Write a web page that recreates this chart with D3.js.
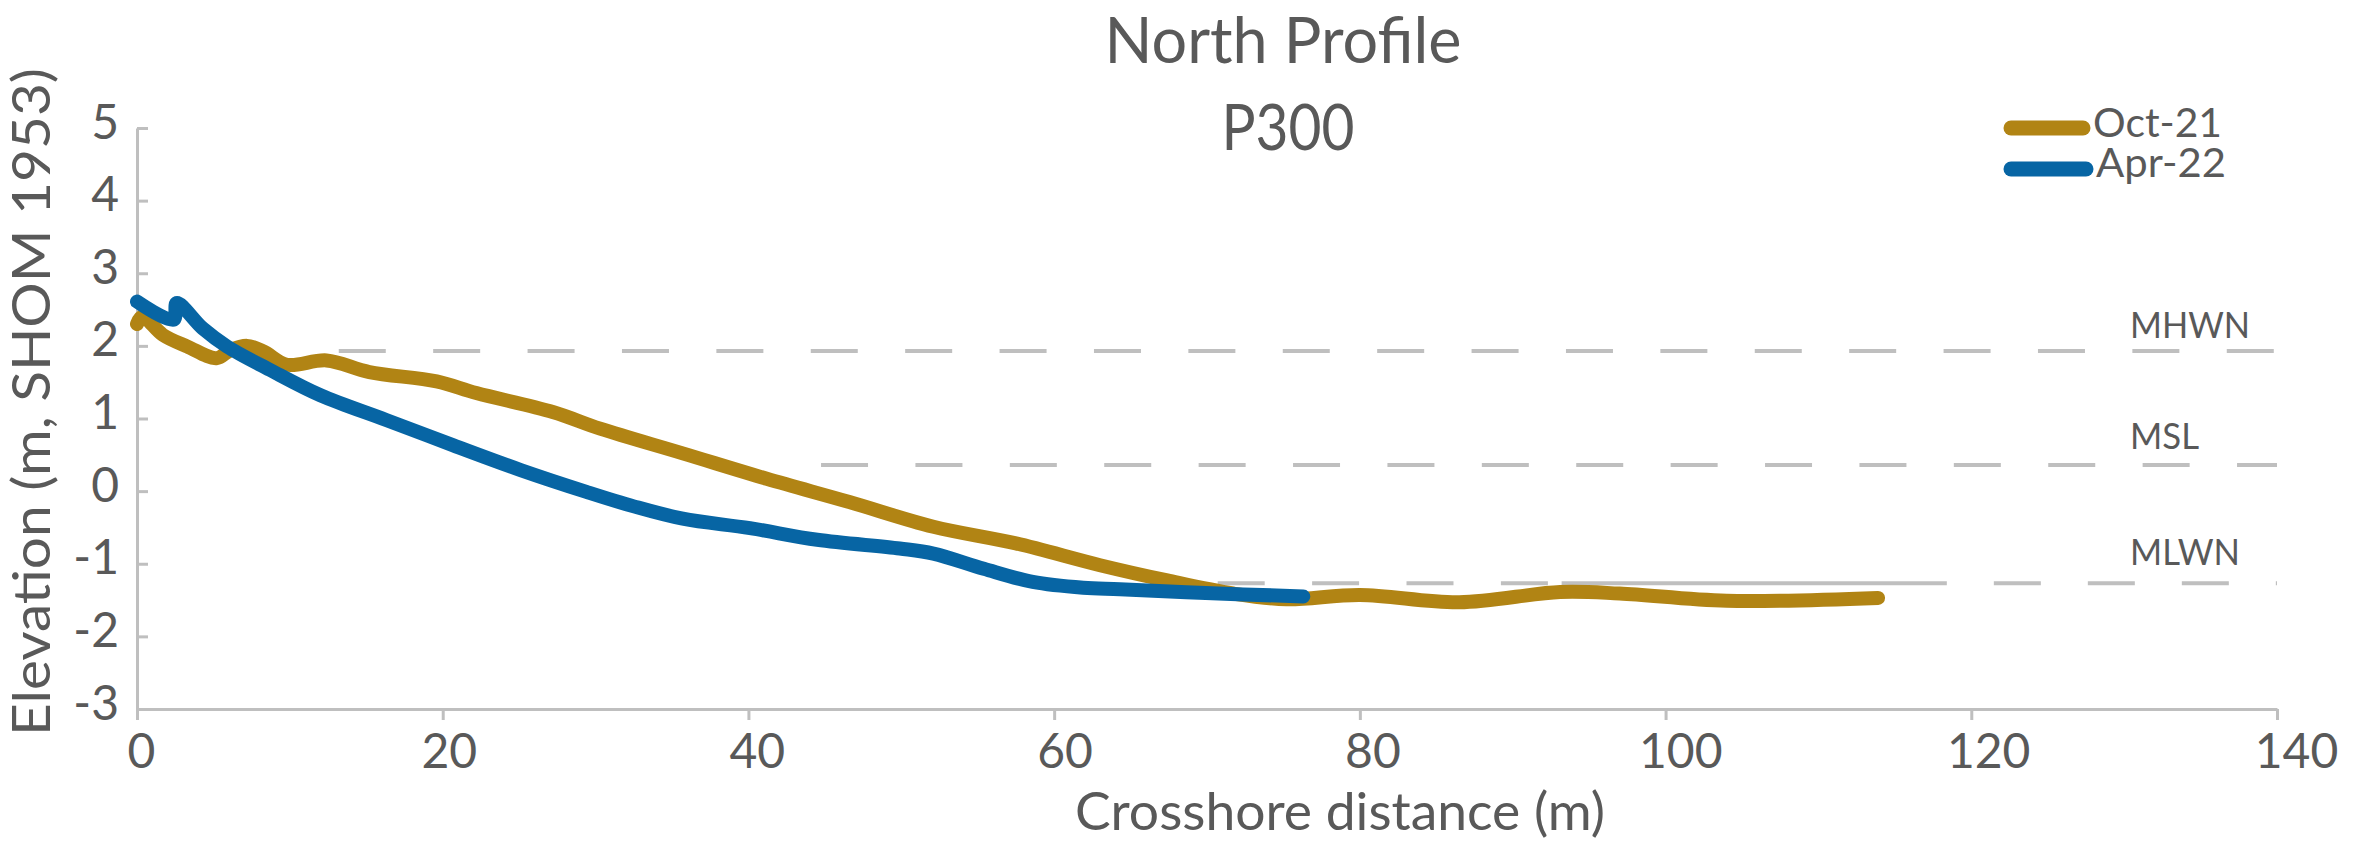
<!DOCTYPE html>
<html>
<head>
<meta charset="utf-8">
<script src="https://cdn.jsdelivr.net/npm/d3@7/dist/d3.min.js"></script>
<style>
  html, body { margin: 0; padding: 0; background: #fff; }
  svg { display: block; }
  text { font-family: Lato, "Open Sans", sans-serif; fill: #595959; }
</style>
</head>
<body>
<svg id="chart" width="2363" height="864"></svg>
<script>
// profile surveys
var octX = [0, 0.35, 1.7, 3.3, 5.2, 6.1, 7.2, 8.3, 9.8, 12.4, 15.2, 19.6, 22.2, 27.2, 30.3, 35.7, 41.2, 46.6, 52.1, 57.5, 63.0, 67.4, 71.7, 75.2, 80.0, 86.5, 93.1, 97.0, 104.0, 113.9];
var octZ = [2.30, 2.40, 2.15, 1.99, 1.83, 1.94, 2.00, 1.92, 1.74, 1.80, 1.64, 1.51, 1.35, 1.09, 0.86, 0.52, 0.17, -0.15, -0.49, -0.72, -1.02, -1.23, -1.41, -1.49, -1.43, -1.53, -1.39, -1.41, -1.51, -1.47];
var aprX = [0, 2.4, 2.6, 4.3, 5.9, 8.7, 12.0, 16.3, 20.7, 25.1, 29.4, 32.5, 35.7, 40.1, 44.5, 49.9, 52.1, 55.4, 58.6, 61.9, 64.3, 69.5, 76.3];
var aprZ = [2.61, 2.36, 2.59, 2.24, 1.99, 1.67, 1.32, 0.98, 0.63, 0.29, -0.01, -0.21, -0.38, -0.51, -0.67, -0.79, -0.86, -1.07, -1.25, -1.33, -1.35, -1.40, -1.45];

var seriesNames = ['Oct-21', 'Apr-22'];
var seriesColors = ['#B18414', '#0765A4'];

// tide levels
var refNames = ['MHWN', 'MSL', 'MLWN'];
var refLevels = [1.93, 0.36, -1.27];
var refStarts = [13.2, 44.75, 70.7];
var mlwnSolid = [93.2, 118.4];

var xTicks = [0, 20, 40, 60, 80, 100, 120, 140];
var yTicks = [-3, -2, -1, 0, 1, 2, 3, 4, 5];

var svg = d3.select('#chart');
var grey = '#BFBFBF';
var plain = function(d){ return String(d); };

var x = d3.scaleLinear().domain([0, 140]).range([137, 2277]);
var xLab = d3.scaleLinear().domain([0, 140]).range([141, 2296]);
var y = d3.scaleLinear().domain([-3, 5]).range([709, 128]);

// titles
svg.append('text').attr('x', 1283).attr('y', 63).attr('text-anchor', 'middle')
  .style('font-size', '64px').attr('textLength', 357).attr('lengthAdjust', 'spacingAndGlyphs')
  .text('North Profile');
svg.append('text').attr('x', 1288).attr('y', 150).attr('text-anchor', 'middle')
  .style('font-size', '64px').attr('textLength', 133).attr('lengthAdjust', 'spacingAndGlyphs')
  .text('P300');

// axes
var xAxis = svg.append('g').attr('transform', 'translate(0,' + y(-3) + ')')
  .call(d3.axisBottom(x).tickValues(xTicks).tickSize(11).tickSizeOuter(0).tickFormat(plain));
xAxis.selectAll('text').attr('dy', null).attr('y', 59)
  .attr('x', function(d){ return xLab(d) - x(d); })
  .style('font-size', '48px');

var yAxis = svg.append('g').attr('transform', 'translate(' + x(0) + ',0)')
  .call(d3.axisLeft(y).tickValues(yTicks).tickSize(-11).tickSizeOuter(0).tickPadding(18).tickFormat(plain));
yAxis.selectAll('text').attr('dy', null).attr('y', 10).style('font-size', '48px');

svg.selectAll('.domain, .tick line').attr('stroke', grey).attr('stroke-width', 3);
svg.selectAll('.tick text').attr('fill', '#595959').style('font-family', 'Lato, "Open Sans", sans-serif');

// axis titles
svg.append('text').attr('x', 1340).attr('y', 830).attr('text-anchor', 'middle')
  .style('font-size', '52px').attr('textLength', 530).attr('lengthAdjust', 'spacingAndGlyphs')
  .text('Crosshore distance (m)');
svg.append('text').attr('transform', 'translate(50,402) rotate(-90)').attr('text-anchor', 'middle')
  .style('font-size', '52px').attr('textLength', 668).attr('lengthAdjust', 'spacingAndGlyphs')
  .text('Elevation (m, SHOM 1953)');

// tide reference lines
var refG = svg.append('g');
refNames.forEach(function(name, i){
  var stop = name === 'MLWN' ? mlwnSolid[0] : 140;
  refG.append('line')
    .attr('x1', x(refStarts[i])).attr('x2', x(stop))
    .attr('y1', y(refLevels[i])).attr('y2', y(refLevels[i]))
    .attr('stroke', grey).attr('stroke-width', 4).attr('stroke-dasharray', '47,47.4');
});
var lw = refLevels[2];
refG.append('line')
  .attr('x1', x(mlwnSolid[0])).attr('x2', x(mlwnSolid[1]))
  .attr('y1', y(lw)).attr('y2', y(lw))
  .attr('stroke', grey).attr('stroke-width', 4);
refG.append('line')
  .attr('x1', x(mlwnSolid[1])).attr('x2', x(140))
  .attr('y1', y(lw)).attr('y2', y(lw))
  .attr('stroke', grey).attr('stroke-width', 4)
  .attr('stroke-dasharray', '47,47').attr('stroke-dashoffset', 47);

var refLabelY = [338, 449, 565];
var refLabelW = [120, 69, 110];
refNames.forEach(function(name, i){
  svg.append('text').attr('x', 2130).attr('y', refLabelY[i])
    .style('font-size', '36px').attr('textLength', refLabelW[i]).attr('lengthAdjust', 'spacingAndGlyphs')
    .text(name);
});

// profiles
var line = d3.line()
  .x(function(d){ return x(d[0]); })
  .y(function(d){ return y(d[1]); })
  .curve(d3.curveCatmullRom.alpha(0.5));

var profiles = [d3.zip(octX, octZ), d3.zip(aprX, aprZ)];
svg.append('g').selectAll('path').data(profiles).enter().append('path')
  .attr('d', line)
  .attr('fill', 'none')
  .attr('stroke', function(d, i){ return seriesColors[i]; })
  .attr('stroke-width', 14)
  .attr('stroke-linecap', 'round')
  .attr('stroke-linejoin', 'round');

// legend
var legendY = [128, 169];
var legendTextY = [137, 177];
var legendTextW = [129, 130];
var lg = svg.append('g');
seriesNames.forEach(function(name, i){
  lg.append('line').attr('x1', 2011).attr('x2', 2083 + i * 3)
    .attr('y1', legendY[i]).attr('y2', legendY[i])
    .attr('stroke', seriesColors[i]).attr('stroke-width', 15).attr('stroke-linecap', 'round');
  lg.append('text').attr('x', 2093 + i * 3).attr('y', legendTextY[i])
    .style('font-size', '41px').attr('textLength', legendTextW[i]).attr('lengthAdjust', 'spacingAndGlyphs')
    .text(name);
});
</script>
</body>
</html>
